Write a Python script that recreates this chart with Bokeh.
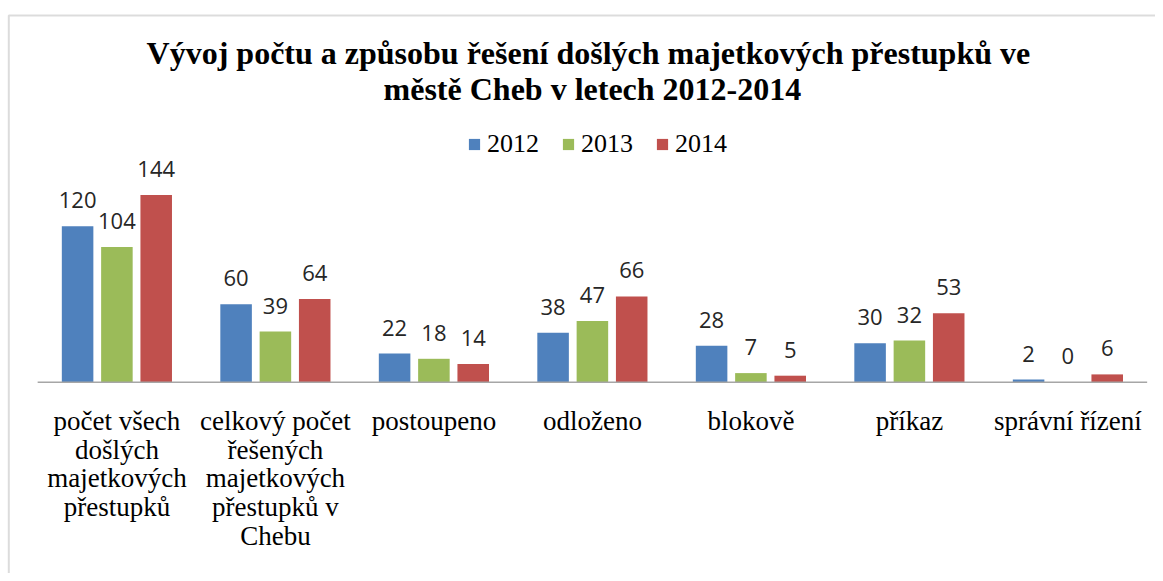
from bokeh.plotting import figure
from bokeh.models import ColumnDataSource, Range1d, Legend, LegendItem, BoxAnnotation
from bokeh.core.properties import value
from bokeh.embed import file_html
from bokeh.resources import INLINE

categories = [
    "počet všech\ndošlých\nmajetkových\npřestupků",
    "celkový počet\nřešených\nmajetkových\npřestupků v\nChebu",
    "postoupeno",
    "odloženo",
    "blokově",
    "příkaz",
    "správní řízení",
]
years = ["2012", "2013", "2014"]
v2012 = [120, 60, 22, 38, 28, 30, 2]
v2013 = [104, 39, 18, 47, 7, 32, 0]
v2014 = [144, 64, 14, 66, 5, 53, 6]
colors = ["#4F81BD", "#9BBB59", "#C0504D"]
title_lines = ["Vývoj počtu a  způsobu řešení došlých majetkových přestupků ve",
               "městě Cheb v letech 2012-2014"]

# layout (pixels of the canvas)
W, H = 1155, 573
PX_X = 158.5          # px per category
PX_Y = 1.30           # px per count
BASE_PX = 381.7       # baseline y in canvas px
FIRST_CENTER_PX = 116.4


def dx(px):
    return 0.5 + (px - FIRST_CENTER_PX) / PX_X


def dy(py):
    return (BASE_PX - py) / PX_Y


p = figure(width=W, height=H, output_backend="svg", toolbar_location=None,
           x_range=Range1d(dx(0), dx(W)), y_range=Range1d(dy(H), dy(0)),
           x_axis_location=None, y_axis_location=None,
           min_border_left=0, min_border_right=0, min_border_bottom=0, min_border_top=0)
for g in p.grid:
    g.visible = False
p.outline_line_color = None
p.background_fill_color = "white"
p.border_fill_color = "white"

# chart-area border (its right and bottom edges lie outside the picture)
p.add_layout(BoxAnnotation(left=dx(8.3), top=dy(15), right=dx(W + 40), bottom=dy(H + 40),
                           fill_alpha=0, line_color="#8c8c8c", line_width=2))

centers = [i + 0.5 for i in range(len(categories))]
offsets = [-0.248, 0.0, 0.248]
bar_w = 0.199

items = []
for series, yr, col, off in zip([v2012, v2013, v2014], years, colors, offsets):
    src = ColumnDataSource(dict(x=[c + off for c in centers], top=series,
                                lbl=[str(v) for v in series]))
    r = p.vbar(x="x", top="top", bottom=0, width=bar_w, source=src,
               fill_color=col, line_color=None)
    items.append(LegendItem(label=yr, renderers=[r]))
    p.text(x="x", y="top", text="lbl", source=src, text_align="center",
           text_baseline="alphabetic", y_offset=-26,
           text_font=value("Open Sans"), text_font_size="22px", text_color="#262626")

# category axis line
p.segment(x0=[0], y0=[0], x1=[len(categories)], y1=[0], line_color="#a6a6a6", line_width=1.5)

# category labels
csrc = ColumnDataSource(dict(x=centers, y=[0] * len(categories), t=categories))
p.text(x="x", y="y", text="t", source=csrc, text_align="center", text_baseline="top",
       y_offset=24, text_font=value("Liberation Serif"), text_font_size="27px",
       text_line_height=0.954, text_color="#000000")

# title
tsrc = ColumnDataSource(dict(x=[len(categories) / 2] * 2, y=[dy(52), dy(88)], t=title_lines))
p.text(x="x", y="y", text="t", source=tsrc, text_align="center", text_baseline="middle",
       text_font=value("Liberation Serif"), text_font_style="bold",
       text_font_size="32px", text_color="#000000")

legend = Legend(items=items, orientation="horizontal", location=(467, 414),
                glyph_width=14, glyph_height=14, label_standoff=6, spacing=22,
                padding=0, margin=0, border_line_color=None, background_fill_alpha=0,
                label_text_font="Liberation Serif", label_text_font_size="26px",
                label_text_color="#000000")
p.add_layout(legend)

open("out.html", "w").write(file_html(p, INLINE))
